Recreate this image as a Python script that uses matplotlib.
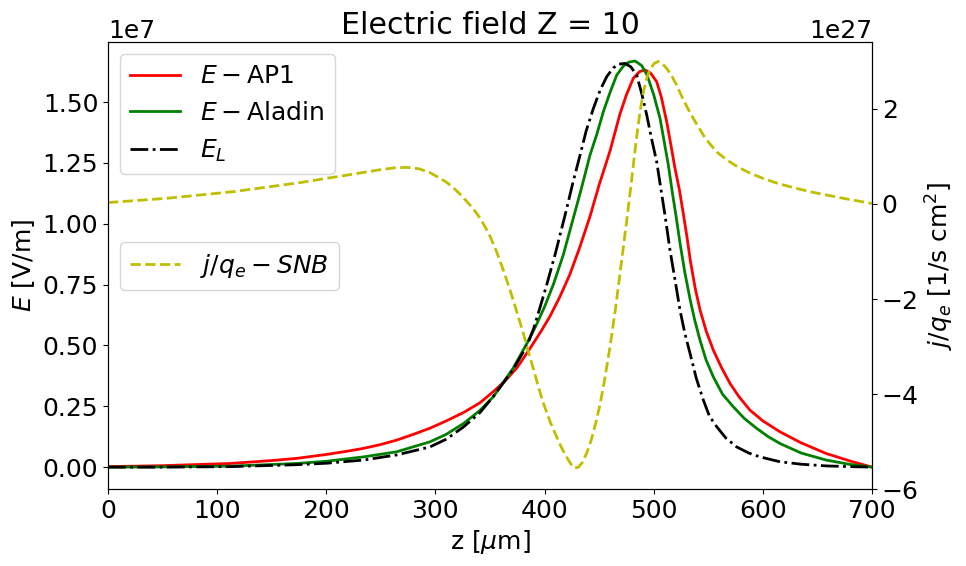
import numpy as np
import matplotlib
matplotlib.use("Agg")
import matplotlib.pyplot as plt

# values; E in units of 1e7 V/m, j/q_e in units of 1e27
z_ap1 = [0, 50, 112, 150, 173, 200, 220, 234, 250, 264.5, 280, 295, 310, 326,
         341, 353, 364, 375, 387, 397, 405, 414, 423, 432, 441.6, 450, 460,
         469, 475, 481.3, 487, 492, 497, 502.7, 507, 511.9, 515.5, 519.5,
         523.5, 527, 530.5, 533.5, 538, 542.5, 548, 554.6, 562, 569.9, 578,
         588.2, 600, 615.7, 635, 658, 680, 700]
E_ap1 = [0.002, 0.006, 0.015, 0.027, 0.036, 0.052, 0.066, 0.077, 0.093,
         0.111, 0.135, 0.16, 0.19, 0.225, 0.265, 0.31, 0.355, 0.41, 0.49,
         0.56, 0.62, 0.70, 0.79, 0.90, 1.03, 1.16, 1.30, 1.45, 1.53, 1.598,
         1.625, 1.632, 1.62, 1.584, 1.52, 1.419, 1.33, 1.228, 1.14, 1.045,
         0.945, 0.85, 0.735, 0.645, 0.56, 0.481, 0.41, 0.344, 0.29, 0.234,
         0.19, 0.145, 0.10, 0.056, 0.025, 0.0]

z_aladin = [0, 50, 112, 173, 200, 234, 264.5, 295, 310, 326, 341, 353, 371,
            384, 392, 400, 408, 417, 427.9, 434, 441.6, 448, 453.8, 460, 466.1,
            472, 477, 482.9, 489, 494, 500, 505.8, 509.5, 513.4, 517, 520.5,
            524.1, 528.5, 533.3, 537.5, 542.4, 548, 554.6, 563, 572.9, 583,
            594.4, 605, 615.7, 635, 658, 680, 700]
E_aladin = [0.0, 0.001, 0.004, 0.015, 0.024, 0.042, 0.063, 0.104, 0.135,
            0.18, 0.234, 0.289, 0.405, 0.51, 0.58, 0.659, 0.75, 0.87, 1.049,
            1.15, 1.282, 1.37, 1.46, 1.54, 1.611, 1.647, 1.664, 1.669, 1.65,
            1.61, 1.53, 1.433, 1.34, 1.241, 1.13, 1.03, 0.92, 0.80, 0.69,
            0.605, 0.522, 0.44, 0.371, 0.30, 0.248, 0.20, 0.159, 0.125, 0.097,
            0.058, 0.029, 0.011, 0.0]

z_L = [0, 50, 112, 173, 200, 234, 264.5, 295, 310, 326, 341, 353, 371, 384,
       390, 396, 402, 410, 420.3, 426, 432.5, 438, 444.7, 451, 457, 463, 468,
       473.7, 479, 484.4, 489, 493.6, 498, 502.7, 506, 510.5, 514.9, 519.5,
       524.1, 528.5, 533.3, 539, 545.5, 551, 557.7, 566, 576, 587, 597.4,
       615.7, 635, 658, 680, 700]
E_L = [0.0, 0.0, 0.002, 0.010, 0.016, 0.029, 0.050, 0.083, 0.115, 0.166,
       0.225, 0.29, 0.40, 0.50, 0.57, 0.659, 0.75, 0.88, 1.063, 1.17, 1.282,
       1.38, 1.474, 1.55, 1.605, 1.641, 1.656, 1.659, 1.645, 1.611, 1.535,
       1.447, 1.35, 1.255, 1.16, 1.03, 0.892, 0.77, 0.645, 0.55, 0.467, 0.365,
       0.275, 0.21, 0.166, 0.12, 0.083, 0.058, 0.042, 0.022, 0.012, 0.005,
       0.002, 0.0]

z_snb = [0, 54, 115, 176, 203, 225, 249, 262, 274, 285, 295, 305, 310, 316,
         322, 328, 334, 340, 345, 350, 356, 362, 367, 371.5, 376, 380.5, 385,
         390, 394.5, 399, 405, 411, 416, 420, 424, 427.5, 431, 435, 439, 443,
         447, 451, 455, 460, 465, 470, 475, 480, 484, 487.5, 490.5, 493.6, 497,
         500.5, 504.2, 508, 512, 516, 521, 526, 531, 536.3, 541, 546, 551.6,
         558, 566.9, 577, 588.2, 600, 612.7, 627, 643, 658, 673.7, 688, 700]
j_snb = [0.03, 0.12, 0.26, 0.45, 0.55, 0.63, 0.72, 0.76, 0.77, 0.74, 0.66,
         0.53, 0.46, 0.35, 0.22, 0.07, -0.08, -0.27, -0.46, -0.68, -1.0,
         -1.38, -1.72, -2.04, -2.38, -2.72, -3.1, -3.49, -3.86, -4.2, -4.58,
         -4.9, -5.15, -5.32, -5.47, -5.56, -5.54, -5.43, -5.22, -4.95, -4.6,
         -4.2, -3.7, -3.0, -2.2, -1.3, -0.4, 0.55, 1.35, 1.95, 2.35, 2.65,
         2.85, 2.96, 3.0, 2.95, 2.85, 2.72, 2.5, 2.25, 2.02, 1.80, 1.62, 1.43,
         1.26, 1.09, 0.93, 0.78, 0.65, 0.54, 0.44, 0.35, 0.26, 0.19, 0.12,
         0.06, 0.01]

plt.rcParams["font.size"] = 18

fig, ax = plt.subplots(figsize=(9.66, 5.66), dpi=100)
fig.subplots_adjust(left=0.1118, right=0.9027, bottom=0.136, top=0.9258)

ax.plot(z_ap1, np.array(E_ap1) * 1e7, "r-", lw=2, label=r"$E-$AP1")
ax.plot(z_aladin, np.array(E_aladin) * 1e7, "g-", lw=2, label=r"$E-$Aladin")
ax.plot(z_L, np.array(E_L) * 1e7, "k-.", lw=2, label=r"$E_L$")
ax.set_xlim(0, 700)
ax.set_ylim(-0.09e7, 1.747e7)
ax.set_xlabel(r"z [$\mu$m]")
ax.set_ylabel(r"$E$ [V/m]")
ax.set_title("Electric field Z = 10")
ax.legend(loc="upper left")

ax2 = ax.twinx()
ax2.plot(z_snb, np.array(j_snb) * 1e27, "y--", lw=2, label=r"$j/q_e-SNB$")
ax2.set_ylim(-6e27, 3.41e27)
ax2.set_ylabel(r"$j/q_e$ [1/s cm$^2$]")
ax2.legend(loc="upper left", bbox_to_anchor=(0.0, 0.58))

fig.savefig("out.png", dpi=100)
